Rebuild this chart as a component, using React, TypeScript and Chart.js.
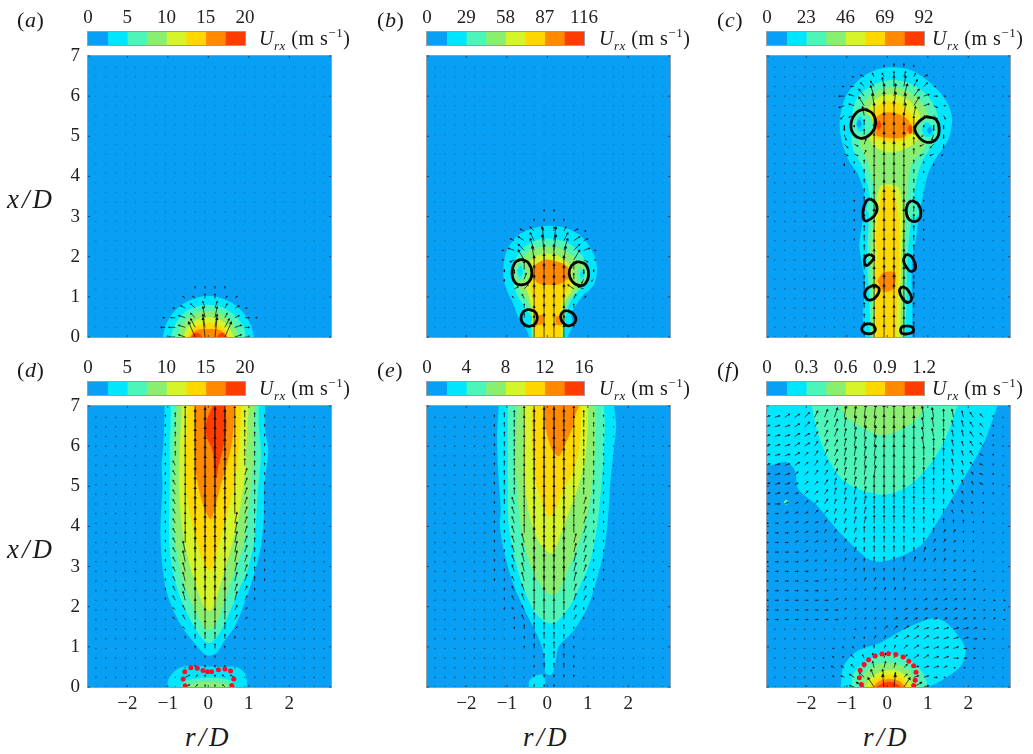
import React, { useEffect, useRef } from "react";
import { Chart, registerables } from "chart.js";
Chart.register(...registerables);

type P = [number, number];
type Contour = [number, P[]];

const SERIF = "'Liberation Serif', serif";
const levelColors = ["#08a0f5", "#00e6ff", "#4df5b8", "#8aee70", "#d5f52a", "#ffd800", "#ff8a00", "#ff3c00"];
const arrowColor = "#0d0d0d";

const rTicks = [-2, -1, 0, 1, 2];
const xTicks = [0, 1, 2, 3, 4, 5, 6, 7];
const gridR = [-3.02, -2.775, -2.53, -2.285, -2.04, -1.795, -1.55, -1.305, -1.06, -0.815, -0.57, -0.325, -0.08, 0.165, 0.41, 0.655, 0.9, 1.145, 1.39, 1.635, 1.88, 2.125, 2.37, 2.615, 2.86];
const gridX = [0, 0.24, 0.48, 0.72, 0.96, 1.2, 1.44, 1.68, 1.92, 2.16, 2.4, 2.64, 2.88, 3.12, 3.36, 3.6, 3.84, 4.08, 4.32, 4.56, 4.8, 5.04, 5.28, 5.52, 5.76, 6, 6.24, 6.48, 6.72];

// colour-bar ticks and level edges
const cbTicksA = [0, 5, 10, 15, 20];
const cbEdgesA = [0, 2.5, 5, 7.5, 10, 12.5, 15, 17.5, 20];
const cbTicksB = [0, 29, 58, 87, 116];
const cbEdgesB = [0, 14.5, 29, 43.5, 58, 72.5, 87, 101.5, 116];
const cbTicksC = [0, 23, 46, 69, 92];
const cbEdgesC = [0, 11.5, 23, 34.5, 46, 57.5, 69, 80.5, 92];
const cbTicksE = [0, 4, 8, 12, 16];
const cbEdgesE = [0, 2, 4, 6, 8, 10, 12, 14, 16];
const cbTicksF = [0, 0.3, 0.6, 0.9, 1.2];
const cbEdgesF = [0, 0.15, 0.3, 0.45, 0.6, 0.75, 0.9, 1.05, 1.2];

// contours: [level, outline in (r/D, x/D)]
const contoursA: Contour[] = [
  [1, [[-1.12, 0], [-1.05, 0.3], [-0.85, 0.62], [-0.55, 0.87], [-0.2, 1], [0, 1.03], [0.2, 1], [0.55, 0.87], [0.85, 0.62], [1.05, 0.3], [1.13, 0]]],
  [2, [[-0.92, 0], [-0.82, 0.32], [-0.55, 0.64], [-0.2, 0.78], [0.05, 0.8], [0.35, 0.74], [0.7, 0.5], [0.88, 0.22], [0.93, 0]]],
  [3, [[-0.76, 0], [-0.66, 0.3], [-0.4, 0.55], [0, 0.65], [0.35, 0.57], [0.62, 0.32], [0.76, 0]]],
  [4, [[-0.62, 0], [-0.5, 0.26], [-0.25, 0.44], [0, 0.5], [0.28, 0.44], [0.5, 0.26], [0.62, 0]]],
  [5, [[-0.52, 0], [-0.38, 0.22], [-0.1, 0.34], [0.15, 0.34], [0.38, 0.22], [0.52, 0]]],
  [6, [[-0.46, 0], [-0.3, 0.17], [0, 0.2], [0.3, 0.17], [0.46, 0]]],
  [7, [[-0.42, 0], [-0.33, 0.1], [-0.22, 0.08], [-0.15, 0]]],
  [7, [[0.2, 0], [0.28, 0.08], [0.38, 0.1], [0.46, 0]]],
];
const contoursB: Contour[] = [
  [1, [[-0.45, 0], [-0.5, 0.15], [-0.72, 0.5], [-0.85, 0.85], [-0.95, 1.05], [-1.07, 1.4], [-1.08, 1.8], [-0.98, 2.2], [-0.7, 2.55], [-0.3, 2.72], [0.05, 2.77], [0.5, 2.7], [0.9, 2.45], [1.15, 2.05], [1.23, 1.7], [1.15, 1.3], [0.9, 1.05], [0.75, 0.85], [0.6, 0.6], [0.62, 0.3], [0.5, 0]]],
  [2, [[-0.38, 0], [-0.42, 0.3], [-0.55, 0.7], [-0.75, 1.05], [-0.85, 1.4], [-0.82, 1.85], [-0.6, 2.2], [-0.25, 2.42], [0.1, 2.45], [0.5, 2.35], [0.85, 2.05], [1, 1.7], [0.9, 1.3], [0.65, 1], [0.5, 0.7], [0.45, 0.3], [0.4, 0]]],
  [3, [[-0.36, 0], [-0.4, 0.5], [-0.5, 0.9], [-0.7, 1.2], [-0.72, 1.7], [-0.5, 2.1], [-0.1, 2.27], [0.3, 2.22], [0.65, 2], [0.85, 1.65], [0.8, 1.25], [0.55, 0.95], [0.42, 0.6], [0.4, 0]]],
  [4, [[-0.34, 0], [-0.38, 0.6], [-0.45, 1], [-0.55, 1.3], [-0.5, 1.8], [-0.2, 2.05], [0.2, 2.05], [0.55, 1.8], [0.68, 1.5], [0.6, 1.15], [0.42, 0.85], [0.38, 0]]],
  [5, [[-0.33, 0], [-0.33, 0.75], [-0.4, 1.2], [-0.4, 1.7], [-0.1, 1.9], [0.2, 1.9], [0.5, 1.65], [0.55, 1.3], [0.4, 1], [0.33, 0.7], [0.35, 0]]],
  [6, [[-0.35, 1.55], [-0.25, 1.35], [0, 1.3], [0.3, 1.32], [0.55, 1.5], [0.5, 1.75], [0.25, 1.88], [-0.05, 1.93], [-0.3, 1.8]]],
  [6, [[-0.28, 0.5], [-0.12, 0.55], [-0.1, 0.35], [-0.28, 0.28]]],
  [6, [[0.2, 0.52], [0.36, 0.5], [0.36, 0.3], [0.2, 0.32]]],
  [3, [[-0.82, 1.65], [-0.72, 1.95], [-0.5, 1.85], [-0.42, 1.55], [-0.55, 1.3], [-0.75, 1.35]]],
  [2, [[-0.78, 1.65], [-0.68, 1.85], [-0.55, 1.7], [-0.55, 1.45], [-0.72, 1.4]]],
  [1, [[-0.74, 1.65], [-0.66, 1.78], [-0.6, 1.6], [-0.68, 1.48]]],
  [3, [[0.6, 1.55], [0.7, 1.85], [0.92, 1.75], [0.98, 1.45], [0.85, 1.3], [0.65, 1.32]]],
  [2, [[0.72, 1.55], [0.8, 1.75], [0.92, 1.6], [0.9, 1.4], [0.75, 1.36]]],
  [1, [[0.8, 1.55], [0.86, 1.68], [0.92, 1.55], [0.86, 1.42]]],
  [1, [[-0.58, 0.48], [-0.5, 0.62], [-0.38, 0.5], [-0.42, 0.32], [-0.55, 0.32]]],
  [1, [[0.42, 0.45], [0.5, 0.58], [0.6, 0.48], [0.6, 0.32], [0.48, 0.32]]],
];
const contoursC: Contour[] = [
  [1, [[-0.58, 0], [-0.6, 0.6], [-0.55, 1.3], [-0.62, 1.8], [-0.69, 2.3], [-0.62, 2.8], [-0.55, 3.4], [-0.7, 4], [-0.98, 4.45], [-1.15, 5], [-1.17, 5.45], [-1.02, 6], [-0.65, 6.45], [-0.2, 6.68], [0.2, 6.72], [0.65, 6.62], [1.15, 6.25], [1.5, 5.8], [1.6, 5.4], [1.5, 4.9], [1.2, 4.45], [1, 4.05], [0.88, 3.5], [0.78, 3], [0.72, 2.5], [0.62, 2], [0.6, 1.4], [0.62, 0.7], [0.61, 0]]],
  [2, [[-0.42, 0], [-0.45, 1], [-0.5, 2], [-0.45, 3], [-0.45, 3.6], [-0.6, 4.2], [-0.85, 4.7], [-0.88, 5.4], [-0.75, 5.95], [-0.3, 6.3], [0.15, 6.4], [0.6, 6.3], [1.05, 5.95], [1.27, 5.4], [1.15, 4.85], [0.85, 4.35], [0.7, 3.8], [0.6, 3], [0.5, 2], [0.48, 1], [0.45, 0]]],
  [3, [[-0.38, 0], [-0.38, 1], [-0.42, 2], [-0.38, 3], [-0.35, 3.8], [-0.5, 4.4], [-0.68, 4.8], [-0.68, 5.5], [-0.5, 5.95], [-0.1, 6.18], [0.3, 6.2], [0.7, 6], [1, 5.6], [1.05, 5.2], [0.9, 4.7], [0.6, 4.3], [0.5, 3.7], [0.45, 3], [0.42, 2], [0.4, 1], [0.4, 0]]],
  [4, [[-0.55, 5.2], [-0.5, 5.6], [-0.25, 5.95], [0.1, 6.05], [0.45, 5.95], [0.75, 5.65], [0.85, 5.25], [0.7, 4.85], [0.35, 4.65], [0, 4.6], [-0.35, 4.75]]],
  [4, [[-0.32, 0], [-0.3, 1.2], [-0.35, 2], [-0.3, 3], [-0.18, 3.75], [0.1, 3.8], [0.3, 3.7], [0.38, 3], [0.35, 2], [0.33, 1], [0.33, 0]]],
  [5, [[-0.45, 5.2], [-0.35, 5.6], [-0.1, 5.85], [0.2, 5.85], [0.5, 5.65], [0.7, 5.3], [0.5, 4.95], [0.1, 4.85], [-0.3, 4.95]]],
  [5, [[-0.28, 0], [-0.28, 1], [-0.3, 1.5], [-0.25, 2], [-0.28, 2.5], [-0.2, 3.2], [-0.1, 3.72], [0.1, 3.72], [0.25, 3.2], [0.3, 2.5], [0.28, 1.5], [0.25, 1], [0.22, 0]]],
  [6, [[-0.35, 5.2], [-0.25, 5.5], [0, 5.6], [0.3, 5.55], [0.55, 5.35], [0.45, 5], [0.1, 4.95], [-0.25, 5]]],
  [6, [[-0.25, 1.4], [-0.1, 1.6], [0.2, 1.6], [0.15, 1.2], [-0.1, 1.1]]],
  [7, [[-0.28, 5.3], [-0.2, 5.4], [-0.15, 5.25], [-0.22, 5.15]]],
  [7, [[0.5, 5.2], [0.58, 5.3], [0.62, 5.1], [0.54, 5.05]]],
  [2, [[-0.85, 5.3], [-0.7, 5.6], [-0.42, 5.5], [-0.35, 5.2], [-0.55, 5], [-0.78, 5.05]]],
  [1, [[-0.78, 5.3], [-0.68, 5.5], [-0.55, 5.35], [-0.6, 5.12], [-0.72, 5.12]]],
  [0, [[-0.76, 5.3], [-0.7, 5.42], [-0.63, 5.3], [-0.7, 5.2]]],
  [2, [[0.72, 5.15], [0.82, 5.42], [1.15, 5.35], [1.25, 5.05], [1.05, 4.88], [0.82, 4.92]]],
  [1, [[0.85, 5.15], [0.95, 5.35], [1.12, 5.25], [1.12, 5.02], [0.95, 4.98]]],
  [0, [[0.98, 5.15], [1.05, 5.25], [1.1, 5.15], [1.04, 5.04]]],
  [2, [[-0.52, 3.2], [-0.42, 3.42], [-0.3, 3.2], [-0.38, 2.95]]],
  [2, [[0.55, 3.15], [0.65, 3.36], [0.78, 3.1], [0.65, 2.92]]],
];
const contoursD: Contour[] = [
  [1, [[-1.08, 7], [-1.1, 6.2], [-1.15, 5.5], [-1.13, 5], [-1.18, 4], [-1.15, 3.2], [-1.06, 2.5], [-0.9, 2], [-0.65, 1.5], [-0.35, 1.1], [-0.1, 0.82], [0.02, 0.78], [0.2, 0.85], [0.4, 1.15], [0.65, 1.5], [0.9, 2.1], [1.1, 2.7], [1.28, 3.4], [1.37, 4.2], [1.38, 5], [1.48, 5.9], [1.4, 6.4], [1.4, 7]]],
  [2, [[-0.92, 7], [-0.95, 6], [-0.95, 5], [-0.97, 4], [-0.93, 3.2], [-0.78, 2.5], [-0.6, 2], [-0.35, 1.5], [-0.1, 1.15], [0.05, 1.1], [0.25, 1.3], [0.5, 1.8], [0.75, 2.4], [1, 3], [1.15, 3.8], [1.22, 4.8], [1.3, 5.8], [1.25, 6.5], [1.25, 7]]],
  [3, [[-0.78, 7], [-0.85, 6], [-0.88, 5], [-0.85, 4], [-0.75, 3.2], [-0.58, 2.5], [-0.35, 1.95], [-0.12, 1.5], [0.05, 1.43], [0.25, 1.7], [0.45, 2.3], [0.7, 3], [0.9, 3.7], [1, 4.5], [1.1, 5.5], [1.12, 6.3], [1.15, 7]]],
  [4, [[-0.65, 7], [-0.7, 6], [-0.72, 5], [-0.65, 4], [-0.5, 3.2], [-0.3, 2.5], [-0.1, 2], [0.05, 1.9], [0.2, 2.2], [0.4, 2.9], [0.6, 3.6], [0.78, 4.4], [0.9, 5.3], [0.95, 6.2], [1, 7]]],
  [5, [[-0.5, 7], [-0.55, 6], [-0.55, 5], [-0.45, 4.3], [-0.28, 3.6], [-0.1, 3.05], [0.05, 2.9], [0.2, 3.3], [0.35, 3.9], [0.55, 4.6], [0.7, 5.4], [0.78, 6.2], [0.82, 7]]],
  [6, [[-0.33, 7], [-0.33, 6], [-0.3, 5.3], [-0.15, 4.6], [0.05, 4.18], [0.15, 4.4], [0.3, 5], [0.48, 5.6], [0.6, 6.2], [0.65, 7]]],
  [7, [[0.1, 7], [-0.05, 6.6], [-0.05, 6.25], [0.1, 5.9], [0.15, 5.4], [0.2, 5.2], [0.25, 5.5], [0.4, 6.1], [0.45, 6.5], [0.42, 7]]],
  [1, [[-1, 0], [-1, 0.15], [-0.85, 0.38], [-0.65, 0.5], [-0.3, 0.52], [0.3, 0.5], [0.7, 0.5], [0.9, 0.35], [0.95, 0.15], [0.95, 0]]],
  [2, [[-0.7, 0], [-0.55, 0.16], [-0.2, 0.22], [0.3, 0.22], [0.55, 0.16], [0.7, 0]]],
  [3, [[-0.55, 0], [-0.3, 0.1], [0, 0.13], [0.35, 0.1], [0.6, 0]]],
];
const contoursE: Contour[] = [
  [1, [[-1.2, 7], [-1.24, 6.2], [-1.2, 5.2], [-1.15, 4.4], [-1.17, 4], [-1.05, 3.3], [-0.85, 2.6], [-0.6, 2], [-0.35, 1.5], [-0.15, 1.05], [-0.05, 0.6], [-0.05, 0.35], [0.1, 0.3], [0.2, 0.6], [0.28, 1], [0.65, 1.4], [1, 2], [1.2, 2.6], [1.4, 3.4], [1.5, 4.2], [1.55, 5], [1.65, 6], [1.7, 6.5], [1.65, 7]]],
  [1, [[-0.45, 0], [-0.45, 0.15], [-0.3, 0.28], [-0.1, 0.3], [-0.05, 0.1], [-0.1, 0]]],
  [2, [[-0.98, 7], [-0.98, 6], [-0.98, 5], [-0.95, 4], [-0.8, 3.2], [-0.6, 2.5], [-0.3, 1.85], [0, 1.6], [0.2, 1.6], [0.55, 2], [0.8, 2.5], [1.05, 3.1], [1.2, 3.8], [1.3, 4.6], [1.38, 5.6], [1.42, 6.5], [1.4, 7]]],
  [3, [[-0.75, 7], [-0.78, 6], [-0.75, 5], [-0.65, 4], [-0.45, 3.1], [-0.2, 2.6], [0, 2.35], [0.15, 2.3], [0.3, 2.4], [0.55, 3], [0.85, 3.8], [1.05, 4.6], [1.15, 5.5], [1.2, 6.3], [1.2, 7]]],
  [4, [[-0.58, 7], [-0.6, 6], [-0.55, 5], [-0.42, 4.2], [-0.2, 3.6], [0.02, 3.35], [0.15, 3.35], [0.3, 3.7], [0.55, 4.4], [0.8, 5.1], [0.95, 5.8], [1, 6.5], [1, 7]]],
  [5, [[-0.38, 7], [-0.38, 6], [-0.3, 5.2], [-0.1, 4.5], [0.05, 4.25], [0.2, 4.4], [0.4, 4.9], [0.65, 5.4], [0.8, 6], [0.85, 7]]],
  [6, [[-0.09, 7], [-0.05, 6.5], [0.1, 5.95], [0.28, 5.75], [0.42, 6], [0.6, 6.4], [0.7, 6.8], [0.78, 7]]],
];
const contoursF: Contour[] = [
  [1, [[-3, 7], [-3, 5.56], [-2.49, 5.6], [-2.28, 5.39], [-2.2, 4.93], [-1.74, 4.52], [-1.25, 3.93], [-0.83, 3.5], [-0.46, 3.18], [-0.17, 3.12], [0.24, 3.22], [0.82, 3.52], [1.23, 4.1], [1.73, 4.93], [2.39, 6.1], [2.72, 7]]],
  [2, [[-1.87, 7], [-1.7, 6.27], [-1.41, 5.6], [-1.08, 5.14], [-0.59, 4.89], [-0.09, 4.79], [0.4, 4.93], [0.9, 5.35], [1.4, 6.1], [1.73, 7]]],
  [3, [[-1.17, 7], [-1, 6.7], [-0.67, 6.5], [-0.17, 6.27], [0.32, 6.4], [0.74, 6.68], [0.9, 7]]],
  [2, [[-2.56, 4.6], [-2.5, 4.67], [-2.44, 4.6], [-2.5, 4.53]]],
  [1, [[-1.15, 0], [-1.08, 0.52], [-0.75, 0.89], [-0.17, 1.1], [0.4, 1.43], [1.07, 1.7], [1.4, 1.64], [1.73, 1.31], [1.93, 0.93], [1.81, 0.52], [1.23, 0.1], [0.98, 0]]],
  [2, [[-0.88, 0], [-0.85, 0.3], [-0.6, 0.6], [-0.2, 0.8], [0.1, 0.82], [0.5, 0.7], [0.85, 0.4], [0.98, 0.1], [0.98, 0]]],
  [3, [[-0.7, 0], [-0.6, 0.3], [-0.3, 0.55], [0.1, 0.6], [0.5, 0.45], [0.75, 0.1], [0.78, 0]]],
  [4, [[-0.55, 0], [-0.4, 0.25], [-0.1, 0.4], [0.2, 0.42], [0.5, 0.25], [0.65, 0]]],
  [5, [[-0.45, 0], [-0.3, 0.2], [0, 0.3], [0.3, 0.27], [0.55, 0]]],
  [6, [[-0.35, 0], [-0.2, 0.15], [0.05, 0.2], [0.3, 0.15], [0.45, 0]]],
  [7, [[-0.28, 0], [-0.1, 0.1], [0.05, 0.13], [0.2, 0.1], [0.35, 0]]],
];

// vortex outlines
const ringsB: P[][] = [
  [[-0.65, 1.94], [-0.47, 1.85], [-0.38, 1.6], [-0.45, 1.38], [-0.63, 1.3], [-0.8, 1.36], [-0.87, 1.62], [-0.8, 1.85]],
  [[0.75, 1.88], [0.95, 1.8], [1.02, 1.55], [0.94, 1.33], [0.8, 1.28], [0.62, 1.38], [0.54, 1.58], [0.6, 1.78]],
  [[-0.45, 0.69], [-0.28, 0.6], [-0.27, 0.38], [-0.42, 0.27], [-0.58, 0.32], [-0.65, 0.48], [-0.58, 0.64]],
  [[0.5, 0.66], [0.66, 0.56], [0.7, 0.4], [0.55, 0.28], [0.42, 0.32], [0.33, 0.48], [0.38, 0.62]],
];
const ringsC: P[][] = [
  [[-0.55, 5.68], [-0.35, 5.55], [-0.29, 5.3], [-0.42, 5.05], [-0.65, 4.95], [-0.85, 5.08], [-0.89, 5.35], [-0.75, 5.6]],
  [[0.95, 5.49], [1.2, 5.42], [1.28, 5.15], [1.2, 4.92], [0.98, 4.85], [0.78, 4.98], [0.68, 5.2], [0.8, 5.38]],
  [[-0.42, 3.45], [-0.27, 3.3], [-0.27, 3.1], [-0.4, 2.95], [-0.56, 2.9], [-0.6, 3.15], [-0.52, 3.38]],
  [[0.6, 3.4], [0.75, 3.32], [0.83, 3.1], [0.75, 2.9], [0.55, 2.92], [0.47, 3.1], [0.5, 3.3]],
  [[-0.42, 2.06], [-0.33, 1.98], [-0.42, 1.85], [-0.52, 1.78], [-0.57, 1.92], [-0.52, 2.02]],
  [[0.47, 2.07], [0.6, 2], [0.7, 1.75], [0.6, 1.63], [0.5, 1.7], [0.4, 1.9]],
  [[-0.32, 1.3], [-0.2, 1.2], [-0.28, 1], [-0.45, 0.92], [-0.56, 1.05], [-0.5, 1.2]],
  [[0.36, 1.26], [0.5, 1.18], [0.6, 0.95], [0.5, 0.86], [0.38, 0.95], [0.3, 1.15]],
  [[-0.46, 0.34], [-0.33, 0.28], [-0.31, 0.14], [-0.45, 0.08], [-0.61, 0.14], [-0.6, 0.28]],
  [[0.48, 0.28], [0.62, 0.24], [0.64, 0.14], [0.5, 0.08], [0.35, 0.1], [0.35, 0.24]],
];

// red marker points
const dotsD: P[] = [[-0.57, 0.03], [-0.62, 0.2], [-0.58, 0.38], [-0.43, 0.48], [-0.27, 0.47], [-0.13, 0.41], [-0.02, 0.38], [0.08, 0.38], [0.25, 0.43], [0.41, 0.45], [0.55, 0.4], [0.63, 0.2], [0.58, 0.04]];
const dotsF: P[] = [[-0.64, 0.06], [-0.69, 0.23], [-0.67, 0.42], [-0.57, 0.56], [-0.46, 0.68], [-0.3, 0.77], [-0.13, 0.82], [0.03, 0.83], [0.21, 0.81], [0.39, 0.75], [0.53, 0.64], [0.65, 0.53], [0.71, 0.37], [0.69, 0.17], [0.65, 0.04]];

// velocity tables, bottom row first. Digit = positive, letter a-i = negative 1-9.
const vA = ["0000179971000", "0000146641000", "0000125521000", "0000123321000", "0000112211000", "0000011110000"];
const uA = ["000ccca133200", "00bccba123200", "00abcba112210", "000abba112100", "0000aa0011000"];
const vB = ["0000067760000", "0000167761000", "0000267762000", "0000277772000", "0001278872100", "0001277772100", "00ab378873ba0", "00ab478874ba0", "000a578875a00", "0001368863100", "0001247742100", "0000122221000", "0000011110000", "0000001100000"];
const uB = ["", "", "", "", "000aa00001100", "000220000cc00", "0001100000aa0", "", "00abca0013210", "00accba123310", "000bcba123200", "0000bba012100"];
const vC = ["0000367763000", "0000367763000", "0000267762000", "0000367763000", "0000378873000", "0000478874000", "0000278872000", "0000367763000", "0000367763000", "0000367763000", "0001367763100", "0001367763100", "0001478874100", "0001378873100", "0001367763100", "0000257752000", "0000256652000", "0001256652100", "00a12566521a0", "00aa257763aaa", "00ba367774abb", "00ca367775acb", "00ca367775acb", "00ba578875abb", "00a15788751a0", "0001467774100", "0000235664200", "0000122332100", "0000001221000"];
const uC = ["", "", "", "", "", "", "", "", "", "", "", "", "", "", "", "", "", "", "", "0022100000bba", "0022100000bb0", "0011000000aa0", "", "00bca00011321", "00ccca0113321", "00cccb0123321", "00abbba012210", "000abaa011200"];
const vD = ["0000111111000", "0000111111000", "0000011110000", "0000001100000", "0000012210000", "0000123321000", "0000134431000", "0001245542100", "0001256652100", "0012467764210", "0012367763210", "0012467764321", "0012467764321", "0012578875321", "0012578875321", "0012578875321", "0012578875321", "0012589985321", "0012589985321", "0012589985321", "0012589985321", "0012589985321", "0012589985321", "0012589985321", "0012589985321", "0012589985321", "0012589985321", "0012589985321", "0012589985321"];
const uD = ["00002100ab000", "00002100ab000", "", "", "", "", "0000a00001000", "000aa00001100", "000aa00001100", "000aa00001100", "000aa00001100", "000aa00001100", "000aa00001100", "000aa00001100", "000aa00001100", "000a000001100", "000a000001100", "000a000001100", "000a000000100", "000a000000100", "000a000000100", "000a000000100", "000a000000100", "000a000000000"];
const vE = ["0000011100000", "0000011111000", "0000012221000", "0000012321000", "0000122321000", "0000123321000", "0001233321000", "0001234432100", "0011245542100", "0012356653210", "0012367763210", "0112477774211", "0113478874311", "0113478874311", "0113478874311", "0113478874311", "0113489984311", "0113489984311", "0113489984321", "0123489984321", "0123489984321", "0123589985321", "0123589985321", "0123589985321", "0123589985321", "0123589985321", "0123589985321", "0123589985321", "0123589985321"];
const uE = ["", "", "", "", "", "", "", "0000a00001000", "000aa00001000", "000aa00001100", "000aa00001100", "000aa00001100", "000aa00001100", "000aa00001100", "000aa00001100", "000aa00001100", "000a000000100", "000a000000100", "000a000000100", "000a000000100"];
const vF = ["0000000001368863100000000", "0000000112355321100000000", "0000000112344321111000000", "0000000112233322211000000", "0000000011222222111100000", "0000000001122222211110000", "0000000000112222111111000", "0000000011111111111111110", "0000000011111111111110000", "0000000111111111111111000", "0000000111122221111111100", "0000001111222221111111000", "0000011112222221111110000", "0000111122233333222111000", "0000111223344443322111000", "0001111223344443322111000", "0001112233444444332211000", "0011112334455554433221100", "0011122334455554433221100", "0011223344556655443221100", "1111223445566665544322110", "1111223445566665544332110", "1112233455666666554432110", "1112233455667766554432110", "1112234456677776655433110", "1112234456677776655433210", "1112234556777777655443210", "1112334567778777665443210", "1122345677888887765543210"];
const uF = ["000000000ceda145300000000", "0000000abccba123321000000", "00000aabbbaa1123332110000", "000000aaabaa1123333321000", "0000000aaa001123333321000", "0000000000011233333332100", "0000000001112233333332100", "2222222211111222222221111", "2222222211111122222211111", "2222222211111111222211111", "2222221111111111111111100", "2222221111110001111111000", "2222211111000011111111000", "2222211111000001111110000", "2222211111000000111100000", "2222221111000000011100000", "2222221111000000001100000", "2222221111100000000000000", "2222222111100000000aaa000", "3322222111100000000aaa000", "3322222111100000000aaa000", "3332222111100000000aaab00", "3332222211110000000aaab00", "3333222211110000000aabb00", "3333222211110000000aabb00", "3333322211110000a00aabb00", "3333322211110000aa0aabb00", "3333322211110000aa0aabb00", "3333322211110000aa0aabb00"];

const digit = (c: string | undefined) => {
  if (!c) return 0;
  const code = c.charCodeAt(0);
  if (code >= 97) return -(code - 96);
  return code - 48;
};

function buildArrows(v: string[], u: string[], startCol: number, unit: number) {
  const lines: { x: number; y: number }[] = [];
  const heads: { x: number; y: number }[] = [];
  const rot: number[] = [];
  const size: number[] = [];
  const dots: { x: number; y: number }[] = [];
  gridX.forEach((x, j) => {
    gridR.forEach((r, k) => {
      const vv = digit(v[j]?.[k - startCol]);
      const uu = digit(u[j]?.[k - startCol]);
      if (vv === 0 && uu === 0) {
        dots.push({ x: r, y: x });
        return;
      }
      const tip = { x: r + uu * unit, y: x + vv * unit };
      lines.push({ x: r, y: x }, tip, { x: NaN, y: NaN });
      heads.push(tip);
      rot.push((Math.atan2(uu, vv) * 180) / Math.PI);
      size.push(Math.min(2, 0.9 + Math.hypot(uu, vv) * 0.15));
    });
  });
  return { lines, heads, rot, size, dots };
}

type Panel = {
  label: string;
  left: number;
  top: number;
  contours: Contour[];
  rings: P[][];
  dots: P[];
  v: string[];
  u: string[];
  startCol: number;
  unit: number;
  cbTicks: number[];
  cbEdges: number[];
  dotAlpha: number;
  showX: boolean;
  showY: boolean;
  labelLeft: number;
  legendLeft: number;
};

const PW = 243;
const PH = 281;
const panels: Panel[] = [
  { label: "a", left: 88, top: 56, contours: contoursA, rings: [], dots: [], v: vA, u: uA, startCol: 6, unit: 0.05, cbTicks: cbTicksA, cbEdges: cbEdgesA, dotAlpha: 0.2, showX: false, showY: true, labelLeft: 17, legendLeft: 259 },
  { label: "b", left: 427, top: 56, contours: contoursB, rings: ringsB, dots: [], v: vB, u: uB, startCol: 6, unit: 0.045, cbTicks: cbTicksB, cbEdges: cbEdgesB, dotAlpha: 0.22, showX: false, showY: false, labelLeft: 377, legendLeft: 599 },
  { label: "c", left: 767, top: 56, contours: contoursC, rings: ringsC, dots: [], v: vC, u: uC, startCol: 6, unit: 0.04, cbTicks: cbTicksC, cbEdges: cbEdgesC, dotAlpha: 0.4, showX: false, showY: false, labelLeft: 717, legendLeft: 932 },
  { label: "d", left: 88, top: 406, contours: contoursD, rings: [], dots: dotsD, v: vD, u: uD, startCol: 6, unit: 0.05, cbTicks: cbTicksA, cbEdges: cbEdgesA, dotAlpha: 0.5, showX: true, showY: true, labelLeft: 17, legendLeft: 259 },
  { label: "e", left: 427, top: 406, contours: contoursE, rings: [], dots: [], v: vE, u: uE, startCol: 6, unit: 0.05, cbTicks: cbTicksE, cbEdges: cbEdgesE, dotAlpha: 0.5, showX: true, showY: false, labelLeft: 377, legendLeft: 599 },
  { label: "f", left: 767, top: 406, contours: contoursF, rings: [], dots: dotsF, v: vF, u: uF, startCol: 0, unit: 0.035, cbTicks: cbTicksF, cbEdges: cbEdgesF, dotAlpha: 0.55, showX: true, showY: false, labelLeft: 717, legendLeft: 932 },
];

const framePlugin = {
  id: "frame",
  beforeDraw(chart: any) {
    const bg = chart.options.plugins.frame?.background;
    if (!bg) return;
    const a = chart.chartArea;
    chart.ctx.fillStyle = bg;
    chart.ctx.fillRect(a.left, a.top, a.width, a.height);
  },
  afterDatasetsDraw(chart: any) {
    const a = chart.chartArea;
    const ctx = chart.ctx;
    ctx.save();
    ctx.strokeStyle = "rgba(130,140,150,0.85)";
    ctx.lineWidth = 1;
    ctx.strokeRect(a.left - 0.5, a.top - 0.5, a.width + 1, a.height + 1);
    if (chart.options.plugins.frame?.ticks) {
      ctx.strokeStyle = "rgba(20,30,50,0.7)";
      ctx.beginPath();
      rTicks.forEach((t) => {
        const p = chart.scales.x.getPixelForValue(t);
        ctx.moveTo(p, a.top);
        ctx.lineTo(p, a.top + 2);
        ctx.moveTo(p, a.bottom);
        ctx.lineTo(p, a.bottom - 2);
      });
      xTicks.forEach((t) => {
        const p = chart.scales.y.getPixelForValue(t);
        ctx.moveTo(a.left, p);
        ctx.lineTo(a.left + 2, p);
        ctx.moveTo(a.right, p);
        ctx.lineTo(a.right - 2, p);
      });
      ctx.stroke();
    }
    ctx.restore();
  },
};

const toXY = (pts: P[]) => pts.map(([x, y]) => ({ x, y }));
const tickFont = { family: SERIF, size: 19 };

function makePanel(canvas: HTMLCanvasElement, p: Panel) {
  const q = buildArrows(p.v, p.u, p.startCol, p.unit);
  const datasets: any[] = [];
  p.contours.forEach(([lvl, pts], i) => {
    datasets.push({
      data: toXY(pts),
      showLine: true,
      fill: "shape",
      backgroundColor: levelColors[lvl],
      borderWidth: 0,
      pointRadius: 0,
      tension: 0.3,
      order: 1000 - i,
    });
  });
  p.rings.forEach((ring) => {
    datasets.push({
      data: toXY([...ring, ring[0]]),
      showLine: true,
      fill: false,
      borderColor: "#050505",
      borderWidth: 2.8,
      pointRadius: 0,
      tension: 0.45,
      order: 5,
    });
  });
  datasets.push({
    data: q.dots,
    showLine: false,
    pointRadius: 0.8,
    pointBorderWidth: 0,
    pointBackgroundColor: `rgba(0,0,0,${p.dotAlpha})`,
    order: 40,
  });
  datasets.push({
    data: q.lines,
    showLine: true,
    spanGaps: false,
    fill: false,
    borderColor: arrowColor,
    borderWidth: 0.75,
    pointRadius: 0,
    tension: 0,
    order: 30,
  });
  datasets.push({
    data: q.heads,
    showLine: false,
    pointStyle: "triangle",
    pointRadius: q.size,
    pointRotation: q.rot,
    pointBorderWidth: 0,
    pointBackgroundColor: arrowColor,
    order: 20,
  });
  if (p.dots.length) {
    datasets.push({
      data: toXY(p.dots),
      showLine: false,
      pointRadius: 2.5,
      pointBorderWidth: 0,
      pointBackgroundColor: "#f5102a",
      order: 1,
    });
  }
  return new Chart(canvas, {
    type: "scatter",
    data: { datasets },
    plugins: [framePlugin],
    options: {
      responsive: false,
      animation: false,
      events: [],
      layout: { padding: { top: 12, right: 12, left: 0, bottom: 0 } },
      plugins: { legend: { display: false }, tooltip: { enabled: false }, frame: { background: levelColors[0], ticks: true } },
      scales: {
        x: {
          type: "linear",
          min: -2.97,
          max: 3.03,
          grid: { display: false, drawTicks: false },
          border: { display: false },
          afterBuildTicks: (s: any) => {
            s.ticks = rTicks.map((value) => ({ value }));
          },
          afterFit: (s: any) => {
            s.height = 30;
            s.paddingLeft = 0;
            s.paddingRight = 0;
          },
          ticks: {
            display: p.showX,
            padding: 6,
            maxRotation: 0,
            font: tickFont,
            color: "#222",
            callback: (v: any) => String(v).replace("-", "\u2212"),
          },
        },
        y: {
          type: "linear",
          min: 0,
          max: 7,
          grid: { display: false, drawTicks: false },
          border: { display: false },
          afterBuildTicks: (s: any) => {
            s.ticks = xTicks.map((value) => ({ value }));
          },
          afterFit: (s: any) => {
            s.width = 45;
            s.paddingTop = 0;
            s.paddingBottom = 0;
          },
          ticks: { display: p.showY, padding: 8, font: tickFont, color: "#222" },
        },
      },
    },
  } as any);
}

function makeBar(canvas: HTMLCanvasElement, p: Panel) {
  const datasets = levelColors.map((color, i) => ({
    data: [[p.cbEdges[i], p.cbEdges[i + 1]]],
    backgroundColor: color,
    borderWidth: 0,
    barPercentage: 1,
    categoryPercentage: 1,
    grouped: false,
  }));
  return new Chart(canvas, {
    type: "bar",
    data: { labels: ["U"], datasets },
    plugins: [framePlugin],
    options: {
      responsive: false,
      animation: false,
      events: [],
      indexAxis: "y",
      layout: { padding: { left: 22, right: 22, top: 0, bottom: 1 } },
      plugins: { legend: { display: false }, tooltip: { enabled: false } },
      scales: {
        x: {
          type: "linear",
          position: "top",
          min: p.cbEdges[0],
          max: p.cbEdges[8],
          grid: { display: false, drawTicks: false },
          border: { display: false },
          afterBuildTicks: (s: any) => {
            s.ticks = p.cbTicks.map((value) => ({ value }));
          },
          afterFit: (s: any) => {
            s.height = 26;
            s.paddingLeft = 0;
            s.paddingRight = 0;
          },
          ticks: { padding: 3, maxRotation: 0, font: tickFont, color: "#222", autoSkip: false, callback: (v: any) => String(v) },
        },
        y: { display: false },
      },
    },
  } as any);
}

const abs = (left: number, top: number, size: number, extra: React.CSSProperties = {}): React.CSSProperties => ({
  position: "absolute",
  left,
  top,
  fontFamily: SERIF,
  fontSize: size,
  lineHeight: `${size}px`,
  color: "#1a1a1a",
  whiteSpace: "nowrap",
  ...extra,
});

const axisLabel: React.CSSProperties = { fontStyle: "italic", letterSpacing: 3 };

export default function App() {
  const plotRefs = useRef<(HTMLCanvasElement | null)[]>([]);
  const barRefs = useRef<(HTMLCanvasElement | null)[]>([]);
  useEffect(() => {
    const charts: Chart[] = [];
    panels.forEach((p, i) => {
      charts.push(makePanel(plotRefs.current[i]!, p));
      charts.push(makeBar(barRefs.current[i]!, p));
    });
    return () => charts.forEach((c) => c.destroy());
  }, []);
  return (
    <div style={{ position: "absolute", left: 0, top: 0, width: 1033, height: 754, overflow: "hidden", background: "#fff" }}>
      {panels.map((p, i) => (
        <React.Fragment key={p.label}>
          <canvas
            ref={(el) => {
              plotRefs.current[i] = el;
            }}
            width={PW + 57}
            height={PH + 42}
            style={{ position: "absolute", left: p.left - 45, top: p.top - 12, filter: "blur(0.35px)" }}
          />
          <canvas
            ref={(el) => {
              barRefs.current[i] = el;
            }}
            width={157 + 44}
            height={26 + 14}
            style={{ position: "absolute", left: p.left - 22, top: p.top - 50 }}
          />
          <div style={abs(p.labelLeft, p.top - 47, 22, { letterSpacing: 0.6 })}>
            (<i>{p.label}</i>)
          </div>
          <div style={abs(p.legendLeft, p.top - 28, 20, { letterSpacing: 0.5 })}>
            <i>U</i>
            <sub style={{ fontSize: 13, lineHeight: 0 }}>
              <i>rx</i>
            </sub>{" "}
            (m s
            <sup style={{ fontSize: 13, lineHeight: 0 }}>−1</sup>)
          </div>
        </React.Fragment>
      ))}
      <div style={abs(7, 186, 27, axisLabel)}>x/D</div>
      <div style={abs(7, 536, 27, axisLabel)}>x/D</div>
      <div style={abs(185, 724, 27, axisLabel)}>r/D</div>
      <div style={abs(523, 724, 27, axisLabel)}>r/D</div>
      <div style={abs(863, 724, 27, axisLabel)}>r/D</div>
    </div>
  );
}
